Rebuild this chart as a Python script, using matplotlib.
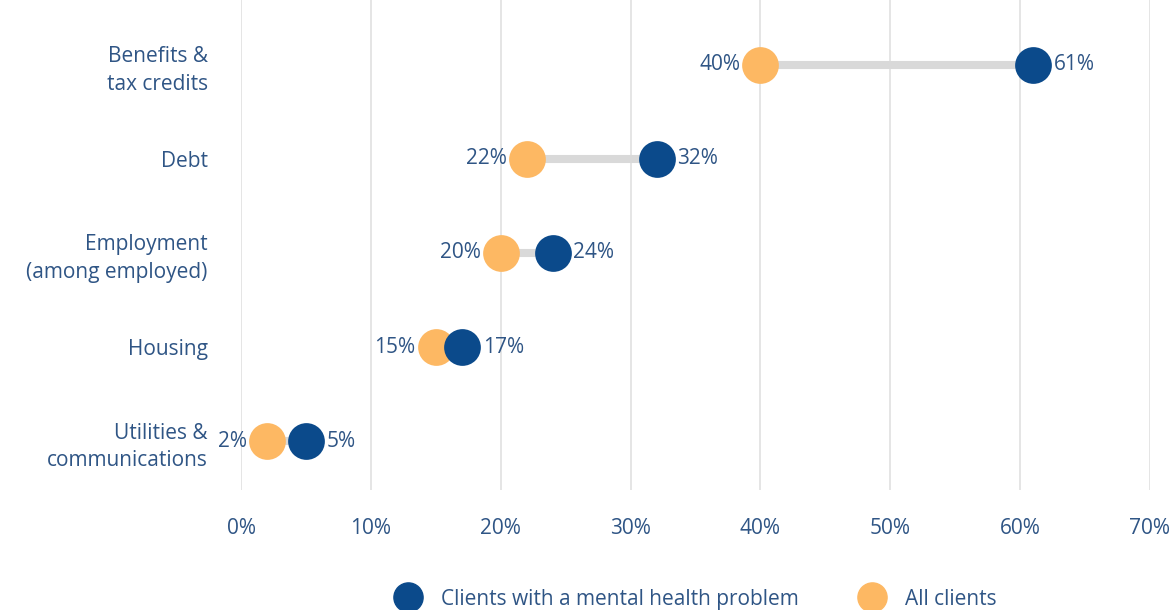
import matplotlib
matplotlib.use("Agg")
import matplotlib.pyplot as plt
from matplotlib.lines import Line2D

# === Data ===
categories = ["Benefits &\ntax credits", "Debt", "Employment\n(among employed)",
              "Housing", "Utilities &\ncommunications"]
mental_health = [61, 32, 24, 17, 5]
all_clients = [40, 22, 20, 15, 2]
x_ticks = [0, 10, 20, 30, 40, 50, 60, 70]

# === Styles ===
BLUE = "#0b4a8b"
ORANGE = "#fdb863"
GREY = "#d9d9d9"
TEXT = "#2f5585"

plt.rcParams["font.family"] = ["Open Sans", "DejaVu Sans"]

fig = plt.figure(figsize=(11.75, 6.10), dpi=100)
ax = fig.add_axes([241 / 1175, 120 / 610, (1150 - 241) / 1175, 490 / 610])

ypos = list(range(len(categories)))

for y, a, m in zip(ypos, all_clients, mental_health):
    ax.plot([a, m], [y, y], color=GREY, lw=5.8, solid_capstyle="butt", zorder=1)

ax.scatter(all_clients, ypos, s=700, color=ORANGE, zorder=2, linewidths=0)
ax.scatter(mental_health, ypos, s=700, color=BLUE, zorder=3, linewidths=0)

for y, a, m in zip(ypos, all_clients, mental_health):
    ax.annotate(f"{a}%", (a, y), xytext=(-14.5, 0), textcoords="offset points",
                ha="right", va="center", fontsize=15, color=TEXT)
    ax.annotate(f"{m}%", (m, y), xytext=(15, 0), textcoords="offset points",
                ha="left", va="center", fontsize=15, color=TEXT)

ax.set_xlim(0, 70)
ax.set_ylim(4.52, -0.69)
ax.set_yticks(ypos)
ax.set_yticklabels(categories, fontsize=15, color=TEXT, linespacing=1.4)
ax.set_xticks(x_ticks)
ax.set_xticklabels([f"{t}%" for t in x_ticks], fontsize=15, color=TEXT)
ax.tick_params(axis="y", length=0, pad=24)
ax.tick_params(axis="x", length=0, pad=20)

ax.grid(axis="x", color="#e3e3e3", lw=1.3)
ax.set_axisbelow(True)
for s in ax.spines.values():
    s.set_visible(False)

handles = [
    Line2D([], [], marker="o", ls="", markersize=21, color=BLUE,
           label="Clients with a mental health problem"),
    Line2D([], [], marker="o", ls="", markersize=21, color=ORANGE,
           label="All clients"),
]
leg = fig.legend(handles=handles, loc="center", bbox_to_anchor=(0.589, 0.018),
                 ncol=2, frameon=False, fontsize=15, columnspacing=2.5,
                 handletextpad=0.6)
for t in leg.get_texts():
    t.set_color(TEXT)

fig.savefig("out.png", dpi=100)
